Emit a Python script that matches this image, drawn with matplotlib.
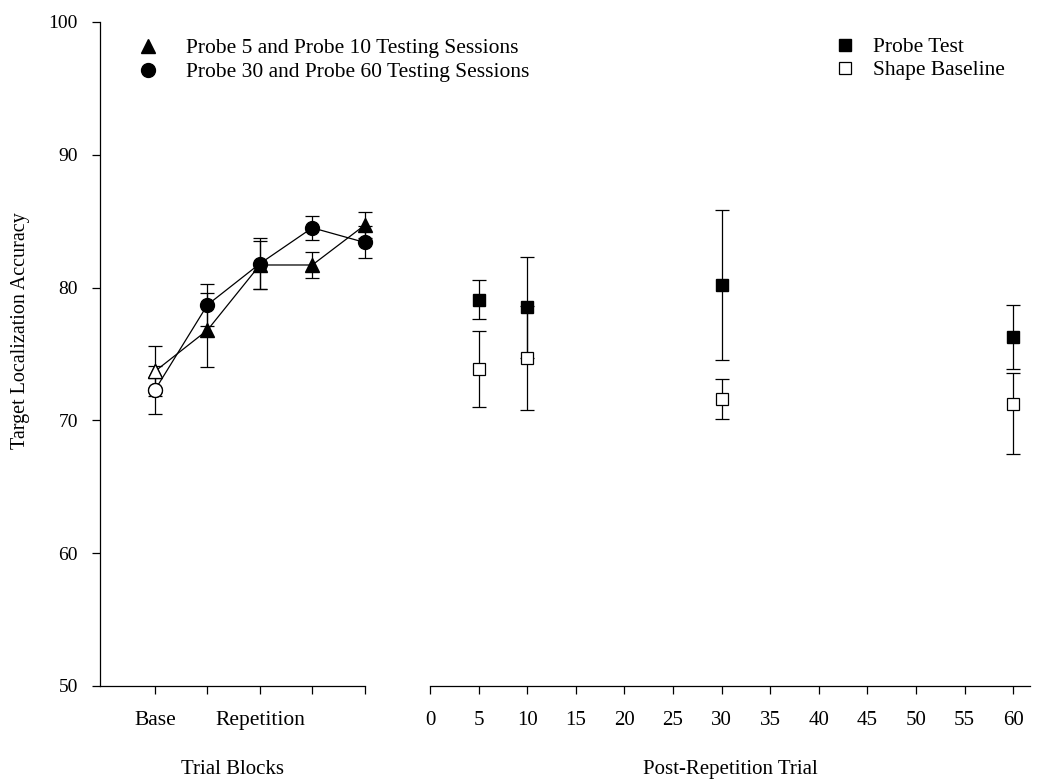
import numpy as np
from matplotlib import pyplot as plt
from matplotlib.lines import Line2D

# trial blocks (left panel)
blocks = [1, 2, 3, 4, 5]
block_labels = ["Base", "", "Repetition", "", ""]
probe_5_10 = [73.7, 76.8, 81.7, 81.7, 84.7]
probe_5_10_err = [1.9, 2.8, 1.8, 1.0, 1.0]
probe_30_60 = [72.3, 78.7, 81.8, 84.5, 83.4]
probe_30_60_err = [1.8, 1.6, 1.9, 0.9, 1.2]

# post-repetition trials (right panel)
trials = [5, 10, 30, 60]
probe_test = [79.1, 78.5, 80.2, 76.3]
probe_test_err = [1.45, 3.8, 5.65, 2.4]
shape_baseline = [73.9, 74.7, 71.6, 71.2]
shape_err_lo = [2.9, 3.9, 1.5, 3.7]
shape_err_hi = [2.8, 3.9, 1.5, 2.4]

plt.rcParams['font.family'] = ['Liberation Serif', 'DejaVu Serif']
plt.rcParams['font.size'] = 15

fig = plt.figure(figsize=(10.42, 7.84), dpi=100)
ax1 = fig.add_axes([0.096, 0.125, 0.254, 0.847])
ax2 = fig.add_axes([0.4127, 0.125, 0.576, 0.847])

lw = 0.9
ebkw = dict(color="black", lw=lw, capsize=5, capthick=lw, elinewidth=lw,
            zorder=3, clip_on=False)

################################################################
# left panel
ax1.errorbar(blocks, probe_5_10, yerr=probe_5_10_err, marker="^", ms=10,
             mfc="black", mec="black", **ebkw)
ax1.errorbar(blocks, probe_30_60, yerr=probe_30_60_err, marker="o", ms=10,
             mfc="black", mec="black", **ebkw)
# baseline points are drawn open
ax1.plot(blocks[0], probe_5_10[0], marker="^", ms=10, mfc="white", mec="black",
         mew=lw, zorder=4)
ax1.plot(blocks[0], probe_30_60[0], marker="o", ms=10, mfc="white", mec="black",
         mew=lw, zorder=4)

ax1.set_xlim(-0.05, 5)
ax1.set_ylim(50, 100)
ax1.set_xticks(blocks)
ax1.set_xticklabels(block_labels, fontsize=15.5)
ax1.set_yticks(np.arange(50, 101, 10))
ax1.set_xlabel("Trial Blocks", fontsize=15)
ax1.xaxis.set_label_coords(0.5, -0.112)
ax1.set_ylabel("Target Localization Accuracy", fontsize=14.5)
ax1.yaxis.set_label_coords(-0.265, 0.535)

################################################################
# right panel
ax2.errorbar(trials, probe_test, yerr=probe_test_err, marker="s", ms=8.5,
             mfc="black", mec="black", ls="none", **ebkw)
ax2.errorbar(trials, shape_baseline, yerr=[shape_err_lo, shape_err_hi],
             marker="s", ms=8.5, mfc="white", mec="black", mew=lw, ls="none",
             **ebkw)

ax2.set_xlim(0, 61.75)
ax2.set_ylim(50, 100)
ax2.set_xticks(np.arange(0, 61, 5))
ax2.set_xticklabels([str(t) for t in range(0, 61, 5)], fontsize=15)
ax2.set_xlabel("Post-Repetition Trial", fontsize=15)
ax2.xaxis.set_label_coords(0.5, -0.112)
ax2.spines["left"].set_visible(False)
ax2.set_yticks([])

for ax in (ax1, ax2):
    ax.spines["top"].set_visible(False)
    ax.spines["right"].set_visible(False)
    for s in ax.spines.values():
        s.set_linewidth(lw)
    ax.tick_params(direction="out", length=6, width=lw, pad=12)
    ax.tick_params(axis="y", pad=10, labelsize=14)

################################################################
# legends
h1 = [Line2D([], [], ls="none", marker="^", ms=10, color="black"),
      Line2D([], [], ls="none", marker="o", ms=10, color="black")]
fig.legend(h1, ["Probe 5 and Probe 10 Testing Sessions",
                "Probe 30 and Probe 60 Testing Sessions"],
           loc="upper left", bbox_to_anchor=(132 / 1042, 1 - 38 / 784),
           frameon=False, borderpad=0, borderaxespad=0, handlelength=1.5,
           handletextpad=1.0, labelspacing=0.2, fontsize=15.5)

h2 = [Line2D([], [], ls="none", marker="s", ms=8.5, color="black"),
      Line2D([], [], ls="none", marker="s", ms=8.5, mfc="white", mec="black",
             mew=lw)]
fig.legend(h2, ["Probe Test", "Shape Baseline"],
           loc="upper left", bbox_to_anchor=(829 / 1042, 1 - 37 / 784),
           frameon=False, borderpad=0, borderaxespad=0, handlelength=1.5,
           handletextpad=0.55, labelspacing=0.15, fontsize=15.5)

fig.savefig("out.png", dpi=100)
